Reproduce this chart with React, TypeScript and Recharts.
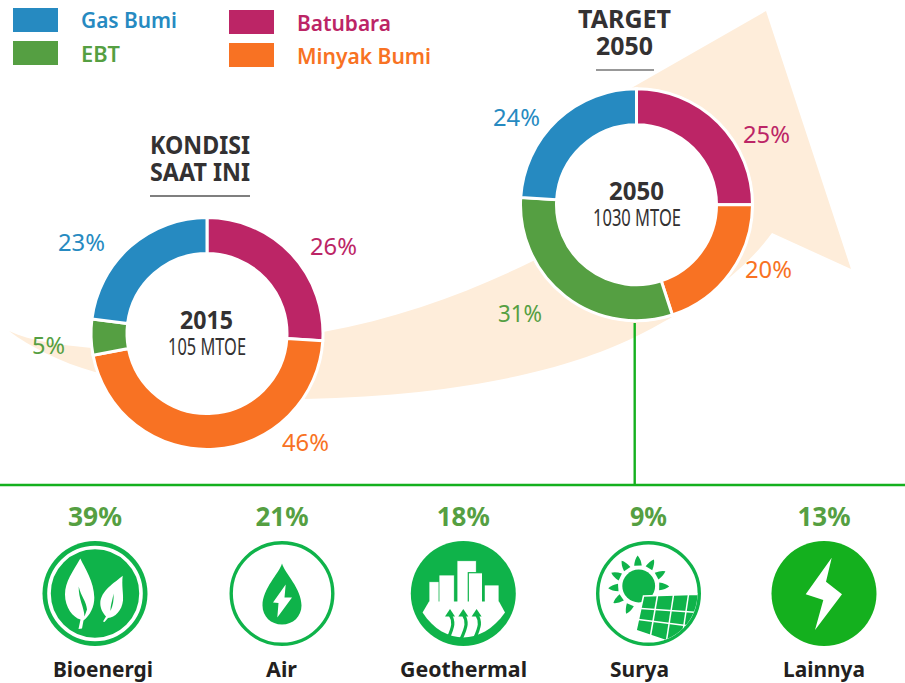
import React from "react";
import { PieChart, Pie, Cell } from "recharts";

const categories = ["Batubara", "Minyak Bumi", "EBT", "Gas Bumi"];
const values2015 = [26, 46, 5, 23];
const values2050 = [25, 20, 31, 24];
const sliceColors = ["#bc2566", "#f87223", "#559f42", "#268ac1"];
const ebtNames = ["Bioenergi", "Air", "Geothermal", "Surya", "Lainnya"];
const ebtValues = [39, 21, 18, 9, 13];

const data2015 = categories.map((name, i) => ({ name, value: values2015[i] }));
const data2050 = categories.map((name, i) => ({ name, value: values2050[i] }));

const FONT = "'Noto Sans', 'Open Sans', sans-serif";
const DARK = "#333132";
const ICON = "#0fb34a";
const LINE = "#14b01e";
const BEIGE = "#feedda";

const C1 = { x: 207, y: 333.5 };
const C2 = { x: 636.5, y: 204.7 };

function T({ x, y, w, size, weight = 400, fill = DARK, anchor = "middle", children }: any) {
  return (
    <text x={x} y={y} fontFamily={FONT} fontSize={size} fontWeight={weight} fill={fill} textAnchor={anchor}
      textLength={w} lengthAdjust="spacingAndGlyphs">{children}</text>
  );
}

const labelSpots2015 = [{ x: 310, y: 255, w: 47 }, { x: 282, y: 451, w: 47 }, { x: 32, y: 354, w: 33 }, { x: 58, y: 251, w: 47 }];
const labelSpots2050 = [{ x: 743, y: 143, w: 47 }, { x: 745, y: 278, w: 47 }, { x: 498, y: 322, w: 44 }, { x: 493, y: 126, w: 47 }];

const pctLabel = (spots: any[], values: number[]) => (p: any) => {
  const s = spots[p.index];
  return (
    <text key={p.index} x={s.x} y={s.y} fontFamily={FONT} fontSize={23} fill={sliceColors[p.index]} textLength={s.w} lengthAdjust="spacingAndGlyphs">
      {values[p.index]}%
    </text>
  );
};

const legendItems = [
  { name: "Gas Bumi", color: sliceColors[3], sx: 13, sy: 8, tx: 81, ty: 28, w: 96 },
  { name: "EBT", color: sliceColors[2], sx: 13, sy: 41, tx: 81, ty: 62, w: 39 },
  { name: "Batubara", color: sliceColors[0], sx: 229, sy: 10, tx: 297, ty: 31, w: 94 },
  { name: "Minyak Bumi", color: sliceColors[1], sx: 229, sy: 43, tx: 297, ty: 64, w: 134 },
];

const ebtLayout = [
  { cx: 95, nx: 103, pw: 54, nw: 100 },
  { cx: 282, nx: 281.5, pw: 53, nw: 31 },
  { cx: 463.3, nx: 463.5, pw: 53, nw: 127 },
  { cx: 648.5, nx: 639.5, pw: 37, nw: 59 },
  { cx: 824, nx: 824, pw: 53, nw: 82 },
];

function Leaves() {
  return (
    <g>
      <circle r={52.5} fill={ICON} />
      <circle r={46} fill="none" stroke="#fff" strokeWidth={3.6} />
      <path fill="#fff" d="M-14.7,-35 C-22,-22 -30,-12 -30,1 C-30,14 -22,24 -14.5,26 L-16.5,35.5 L-13,35 L-11.5,27 C-5,22 -0.5,13 -0.7,4 C-1,-12 -10,-25 -14.7,-35 Z" />
      <path fill={ICON} d="M-16.3,-7 C-14,3 -8.5,8 -8,16 L-10.5,23 C-11,13 -16.5,6 -16.3,-7 Z" />
      <path fill="#fff" d="M27.7,-17.8 C20,-11 5.5,-3 5.3,9.8 C5.2,15 8,20 11,23 L8,28 L9.5,28.5 L13,24.5 C20,24 27,17 28,7 C28.5,0 26.5,-8 27.7,-17.8 Z" />
      <path fill={ICON} d="M18.5,0 C19,6 18,12 15.5,17.5 C15.5,11 17.5,7 18.5,0 Z" />
    </g>
  );
}

function Drop() {
  return (
    <g>
      <circle r={50.8} fill="#fff" stroke={ICON} strokeWidth={3.4} />
      <path fill={ICON} d="M0,-30 C3,-20 19.5,-5 19.5,12 C19.5,23 11,31 0,31 C-11,31 -19.5,23 -19.5,12 C-19.5,-5 -3,-20 0,-30 Z" />
      <path fill="#fff" d="M3.7,-9 L-9,9 L-3.5,9.5 L-4.7,24 L10,4 L2.5,4 Z" />
    </g>
  );
}

function Geo() {
  const bars = [[-34.3, -11.8, 11], [-24.3, -18.5, 15.3], [-6.3, -32.8, 19.3], [5, -20.8, 14.3], [21, -8.5, 14.7]];
  return (
    <g>
      <circle r={52.5} fill={ICON} />
      {bars.map(([x, y, w], i) => (
        <rect key={i} x={x} y={y} width={w} height={24 - y} fill="#fff" stroke={ICON} strokeWidth={i === 3 ? 1.2 : 0.8} />
      ))}
      <path fill="#fff" d="M-34.3,8 L35.7,8 L41.7,19 C30,36 14,44 0,44 C-14,44 -30,36 -40.7,19 Z" />
      {[-13.3, 0, 13.3].map((x) => (
        <g key={x}>
          <path fill={ICON} d={`M${x},15.5 L${x + 5},23 L${x - 5},23 Z`} />
          <path fill="none" stroke={ICON} strokeWidth={3.2} d={`M${x},21 C${x + 4.5},28 ${x + 3.5},33 ${x - 2},45`} />
        </g>
      ))}
    </g>
  );
}

function Sun() {
  const rays = [-156, -124, -94, -64, -34, -2, 30, 61, 91];
  return (
    <g>
      <defs>
        <clipPath id="panelClip"><circle r={49} /></clipPath>
      </defs>
      <circle r={50.8} fill="#fff" stroke={ICON} strokeWidth={3.4} />
      <circle cx={-9.8} cy={-7.5} r={16.4} fill={ICON} />
      {rays.map((a) => (
        <path key={a} transform={`translate(-9.8,-7.5) rotate(${a})`} fill={ICON} d="M-3.8,-20.5 L3.8,-20.5 Q3,-27 0,-30.5 Q-3,-27 -3.8,-20.5 Z" />
      ))}
      <g clipPath="url(#panelClip)">
        <path fill={ICON} stroke="#fff" strokeWidth={1.6} d="M-5,2.5 L52,0.5 L50,26 L20,48 L-12.5,37 Z" />
        <g stroke="#fff" strokeWidth={1.5} fill="none">
          <path d="M9,2 L2,42" />
          <path d="M25,1.5 L18,47" />
          <path d="M40,1 L33,48" />
          <path d="M-7.5,15 L50,19" />
          <path d="M-10,26 L45,33" />
        </g>
      </g>
    </g>
  );
}

function Bolt() {
  return (
    <g>
      <circle r={52.5} fill={LINE} />
      <path fill="#fff" d="M7.7,-35.8 L-18.3,0.8 L-0.7,6.5 L-9,36.5 L18,0.8 L2,-11.8 Z" />
    </g>
  );
}

const icons = [Leaves, Drop, Geo, Sun, Bolt];

export default function App() {
  return (
    <div style={{ position: "absolute", left: 0, top: 0, width: 905, height: 683, background: "#fff", overflow: "hidden" }}>
      <svg width={905} height={683} style={{ position: "absolute", left: 0, top: 0 }}>
        <path fill={BEIGE} d="M9,331 C30,341 60,345 92,348 L323,332 C400,318 470,292 533,261 L600,228 L628,90 L766,11 L851,269 L772,233 C745,270 700,305 633,338 C570,368 470,395 305,399 L95,372 C60,362 30,347 9,331 Z" />
        <circle cx={C1.x} cy={C1.y} r={117} fill="#fff" />
        <circle cx={C2.x} cy={C2.y} r={117} fill="#fff" />

        {legendItems.map((l) => (
          <g key={l.name}>
            <rect x={l.sx} y={l.sy} width={45} height={24} fill={l.color} />
            <T x={l.tx} y={l.ty} w={l.w} size={21} weight={600} fill={l.color} anchor="start">{l.name}</T>
          </g>
        ))}

        <T x={200} y={154} w={100} size={25} weight={700}>KONDISI</T>
        <T x={200} y={181} w={100} size={25} weight={700}>SAAT INI</T>
        <line x1={150} x2={250} y1={196} y2={196} stroke="#555" strokeWidth={1.4} />
        <T x={624.5} y={28} w={93} size={25} weight={700}>TARGET</T>
        <T x={624.5} y={55} w={57} size={25} weight={700}>2050</T>
        <line x1={596} x2={654} y1={70} y2={70} stroke="#333" strokeWidth={1.2} />

        <T x={206.5} y={329} w={53} size={25} weight={700}>2015</T>
        <T x={207} y={355} w={78} size={23}>105 MTOE</T>
        <T x={636.5} y={200} w={55} size={25} weight={700}>2050</T>
        <T x={637} y={226} w={88} size={23}>1030 MTOE</T>

        <line x1={634.7} x2={634.7} y1={323} y2={485} stroke={LINE} strokeWidth={2.4} />
        <line x1={0} x2={905} y1={485} y2={485} stroke={LINE} strokeWidth={2.4} />

        {ebtNames.map((name, i) => {
          const Icon = icons[i];
          const l = ebtLayout[i];
          return (
            <g key={name}>
              <T x={l.cx} y={526} w={l.pw} size={26} weight={700} fill="#559f42">{ebtValues[i]}%</T>
              <g transform={`translate(${l.cx},593.5)`}><Icon /></g>
              <T x={l.nx} y={677} w={l.nw} size={21} weight={700} fill="#231f20">{name}</T>
            </g>
          );
        })}
      </svg>

      <div style={{ position: "absolute", left: 0, top: 0 }}>
        <PieChart width={905} height={683} margin={{ top: 0, right: 0, bottom: 0, left: 0 }}>
          <Pie data={data2015} dataKey="value" nameKey="name" cx={C1.x} cy={C1.y} innerRadius={80} outerRadius={116}
            startAngle={90} endAngle={-270} stroke="#fff" strokeWidth={3} isAnimationActive={false}
            labelLine={false} label={pctLabel(labelSpots2015, values2015)}>
            {data2015.map((d, i) => <Cell key={d.name} fill={sliceColors[i]} />)}
          </Pie>
          <Pie data={data2050} dataKey="value" nameKey="name" cx={C2.x} cy={C2.y} innerRadius={80} outerRadius={116}
            startAngle={90} endAngle={-270} stroke="#fff" strokeWidth={3} isAnimationActive={false}
            labelLine={false} label={pctLabel(labelSpots2050, values2050)}>
            {data2050.map((d, i) => <Cell key={d.name} fill={sliceColors[i]} />)}
          </Pie>
        </PieChart>
      </div>
    </div>
  );
}
